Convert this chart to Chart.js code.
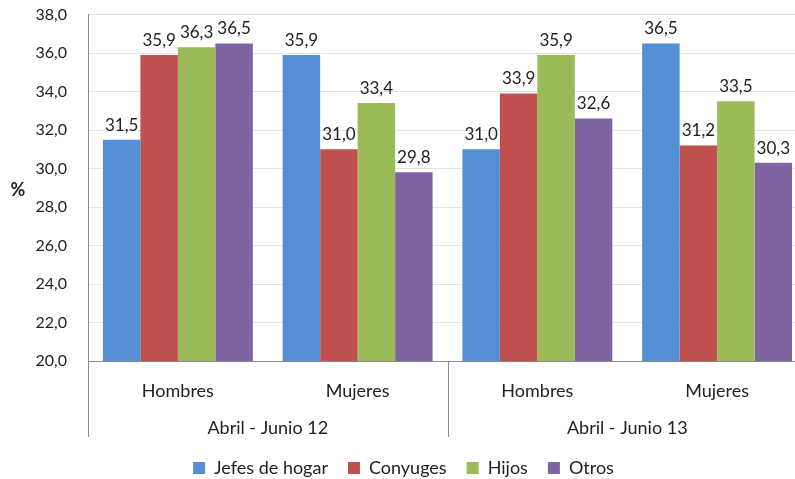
<!DOCTYPE html>
<html><head><meta charset="utf-8">
<script src="https://cdn.jsdelivr.net/npm/chart.js@4/dist/chart.umd.min.js"></script>
<style>html,body{margin:0;padding:0;background:#fff;overflow:hidden;width:795px;height:479px}#wrap{width:807px;height:487px}</style>
</head><body><div id="wrap"><canvas id="c"></canvas></div>
<script>
const categories = ["Hombres","Mujeres","Hombres","Mujeres"];
const periods = ["Abril - Junio 12","Abril - Junio 13"];
const seriesNames = ["Jefes de hogar","Conyuges","Hijos","Otros"];
const jefes = [31.5,35.9,31.0,36.5];
const conyuges = [35.9,31.0,33.9,31.2];
const hijos = [36.3,33.4,35.9,33.5];
const otros = [36.5,29.8,32.6,30.3];
const colors = ["#558ED5","#C0504D","#9BBB59","#8064A2"];
const FONT = "Lato";
const fmt = v => v.toFixed(1).replace('.', ',');

const extras = {
  id:'extras',
  afterDatasetsDraw(chart){
    const ctx = chart.ctx;
    ctx.save();
    ctx.font = "17px " + FONT;
    ctx.fillStyle = "#222";
    ctx.textAlign = "center";
    ctx.textBaseline = "bottom";
    chart.data.datasets.forEach((ds,i)=>{
      chart.getDatasetMeta(i).data.forEach((bar,j)=>{
        ctx.fillText(fmt(ds.data[j]), bar.x, bar.y - 6);
      });
    });
    ctx.restore();
  },
  afterDraw(chart){
    const ctx = chart.ctx, x = chart.scales.x, area = chart.chartArea;
    ctx.save();
    ctx.strokeStyle = "#8c8c8c";
    ctx.lineWidth = 1;
    const bottom = area.bottom + 76;
    const mid = (x.getPixelForValue(1) + x.getPixelForValue(2)) / 2;
    [area.left, mid].forEach(px=>{
      const p = Math.round(px) + 0.5;
      ctx.beginPath(); ctx.moveTo(p, area.bottom); ctx.lineTo(p, bottom); ctx.stroke();
    });
    ctx.font = "18px " + FONT;
    ctx.fillStyle = "#222";
    ctx.textAlign = "center";
    ctx.textBaseline = "middle";
    ctx.fillText(periods[0], (x.getPixelForValue(0)+x.getPixelForValue(1))/2, area.bottom + 67);
    ctx.fillText(periods[1], (x.getPixelForValue(2)+x.getPixelForValue(3))/2, area.bottom + 67);
    ctx.font = "bold 18px " + FONT;
    ctx.fillText("%", 18, 190);
    ctx.restore();
  }
};

new Chart(document.getElementById('c'), {
  type:'bar',
  data:{
    labels: categories,
    datasets: [jefes,conyuges,hijos,otros].map((d,i)=>({
      label: seriesNames[i], data: d, backgroundColor: colors[i], borderWidth:0
    }))
  },
  options:{
    responsive:true, maintainAspectRatio:false, animation:false,
    layout:{padding:0},
    datasets:{bar:{categoryPercentage:0.834, barPercentage:1}},
    scales:{
      x:{
        grid:{display:false, drawTicks:false},
        border:{color:"#8c8c8c"},
        ticks:{font:{family:FONT,size:18}, color:"#222", padding:19},
        afterFit(s){ s.height = 78; }
      },
      y:{
        min:20, max:38,
        grid:{color:"#e3e3e3", drawTicks:false},
        border:{color:"#8c8c8c"},
        ticks:{stepSize:2, font:{family:FONT,size:16}, color:"#222", padding:21, callback:v=>fmt(v)},
        afterFit(s){ s.width = 88; s.paddingTop = 14.5; s.paddingBottom = 0; }
      }
    },
    plugins:{
      legend:{position:'bottom', labels:{font:{family:FONT,size:18}, color:"#222", boxWidth:12, boxHeight:12, padding:20}},
      tooltip:{enabled:false}
    }
  },
  plugins:[extras]
});
</script></body></html>
